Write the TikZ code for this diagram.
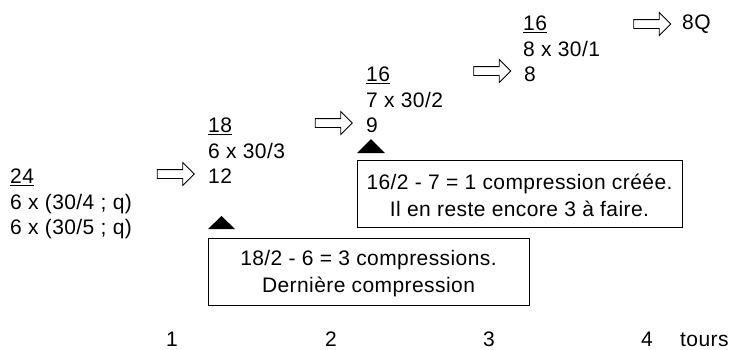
\documentclass[tikz,border=0pt]{standalone}
\usepackage{fontspec}
\setmainfont{Liberation Sans}[LetterSpace=2]
\usetikzlibrary{shapes.arrows}
\newcommand\myul[1]{\setbox0\hbox{#1}\rlap{\rule[-2.2pt]{\wd0}{1pt}}\box0}
\tikzset{
  txt/.style={anchor=base west, inner sep=0pt, font=\fontsize{21pt}{27pt}\selectfont},
  lbl/.style={anchor=base, inner sep=0pt, font=\fontsize{21pt}{27pt}\selectfont},
  blockarr/.style={draw, line width=0.8pt, single arrow, single arrow head extend=7pt,
    minimum height=37pt, inner xsep=0pt, inner ysep=4pt},
  infobox/.style={draw, line width=0.9pt, inner sep=0pt, minimum height=67pt},
  boxtxt/.style={align=center, inner sep=0pt, font=\fontsize{21pt}{27pt}\selectfont},
  marker/.style={fill=black}
}
\begin{document}
\begin{tikzpicture}[x=1pt,y=-1pt]
\useasboundingbox (0,0) rectangle (731,349);
% column 1
\node[txt] (a1) at (10,183.5) {\myul{24}};
\node[txt] (a2) at (10,209) {6 x (30/4 ; q)};
\node[txt] (a3) at (10,234.5) {6 x (30/5 ; q)};
% column 2
\node[txt] (b1) at (208,132.5) {\myul{18}};
\node[txt] (b2) at (208,158) {6 x 30/3};
\node[txt] (b3) at (208,183.5) {12};
% column 3
\node[txt] (c1) at (366,81.5) {\myul{16}};
\node[txt] (c2) at (366,107) {7 x 30/2};
\node[txt] (c3) at (366,132.5) {9};
% column 4
\node[txt] (d1) at (523,30.5) {\myul{16}};
\node[txt] (d2) at (523,56) {8 x 30/1};
\node[txt] (d3) at (524,81.5) {8};
\node[txt] (e1) at (682,29.5) {8Q};
% block arrows
\node[blockarr] (ar1) at (173.5,174) {};
\node[blockarr] (ar2) at (331.5,123) {};
\node[blockarr] (ar3) at (490,71) {};
\node[blockarr] (ar4) at (650,24) {};
% markers
\coordinate (m1) at (221.5,222.5);
\coordinate (m2) at (371,146);
\fill[marker] ([xshift=-13.5pt,yshift=-6.5pt]m1) -- ([xshift=13.5pt,yshift=-6.5pt]m1) -- ([yshift=6.5pt]m1) -- cycle;
\fill[marker] ([xshift=-14pt,yshift=-7pt]m2) -- ([xshift=14pt,yshift=-7pt]m2) -- ([yshift=7pt]m2) -- cycle;
% boxes
\node[infobox, minimum width=321pt] (box1) at (368.5,271.5) {};
\node[boxtxt] (box1t) at ([yshift=-2pt]box1.center) {18/2 - 6 = 3 compressions.\\Dernière compression};
\node[infobox, minimum width=325pt] (box2) at (519.5,193.5) {};
\node[boxtxt] (box2t) at ([yshift=-2pt]box2.center) {16/2 - 7 = 1 compression créée.\\Il en reste encore 3 à faire.};
% axis labels
\node[lbl] (t1) at (172,346.5) {1};
\node[lbl] (t2) at (331,346.5) {2};
\node[lbl] (t3) at (489,346.5) {3};
\node[lbl] (t4) at (647,346.5) {4};
\node[txt] (tt) at (680,346.5) {tours};
\end{tikzpicture}
\end{document}
